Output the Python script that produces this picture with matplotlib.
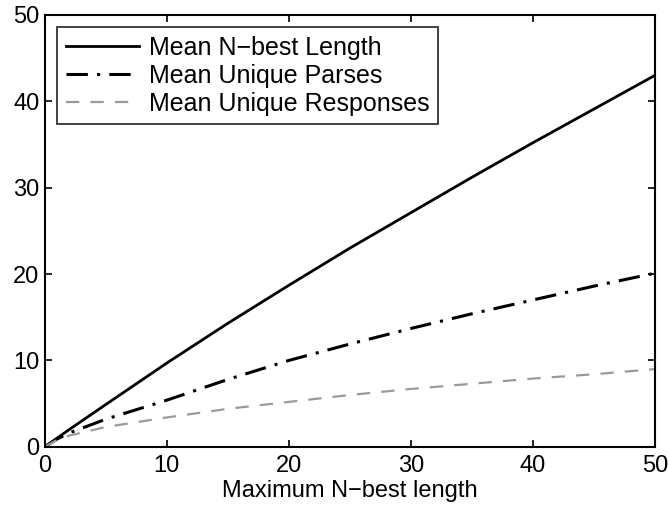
import matplotlib
matplotlib.use("Agg")
import matplotlib.pyplot as plt

# values
max_nbest = [0, 1, 2, 5, 10, 15, 20, 25, 30, 35, 40, 45, 50]
mean_nbest_len = [0, 1.0, 2.0, 4.9, 9.7, 14.3, 18.7, 23.0, 27.1, 31.2, 35.2, 39.1, 43.0]
mean_unique_parses = [0, 0.9, 1.6, 3.2, 5.4, 7.8, 10.0, 11.9, 13.7, 15.4, 17.0, 18.6, 20.1]
mean_unique_resp = [0, 0.8, 1.3, 2.3, 3.4, 4.4, 5.2, 6.0, 6.7, 7.3, 7.9, 8.4, 9.0]

plt.rcParams['font.family'] = ['Liberation Sans', 'DejaVu Sans']

fig = plt.figure(figsize=(6.69, 5.13), dpi=100)
ax = fig.add_axes([0.067, 0.129, 0.912, 0.842])

ax.plot(max_nbest, mean_nbest_len, color='black', lw=2.0, label='Mean N\u2212best Length')
ax.plot(max_nbest, mean_unique_parses, color='black', lw=2.2, linestyle=(0, (7, 3, 1, 3)),
        label='Mean Unique Parses')
ax.plot(max_nbest, mean_unique_resp, color='#9a9a9a', lw=1.6, linestyle=(0, (6, 5)),
        label='Mean Unique Responses')

ax.set_xlim(0, 50)
ax.set_ylim(0, 50)
ax.set_xticks(range(0, 51, 10))
ax.set_yticks(range(0, 51, 10))
ax.tick_params(direction='in', top=True, right=True, labelsize=17, length=5, width=1.2, pad=6)
ax.tick_params(axis='y', pad=4)
for s in ax.spines.values():
    s.set_linewidth(1.5)
ax.set_xlabel('Maximum N\u2212best length', fontsize=17, labelpad=2)

leg = ax.legend(loc='upper left', fontsize=18, frameon=True, fancybox=False,
                edgecolor='black', handlelength=2.9, borderaxespad=0.5,
                labelspacing=0.15, handletextpad=0.4, borderpad=0.35)
leg.get_frame().set_linewidth(1.3)

fig.savefig('out.png', dpi=100)
